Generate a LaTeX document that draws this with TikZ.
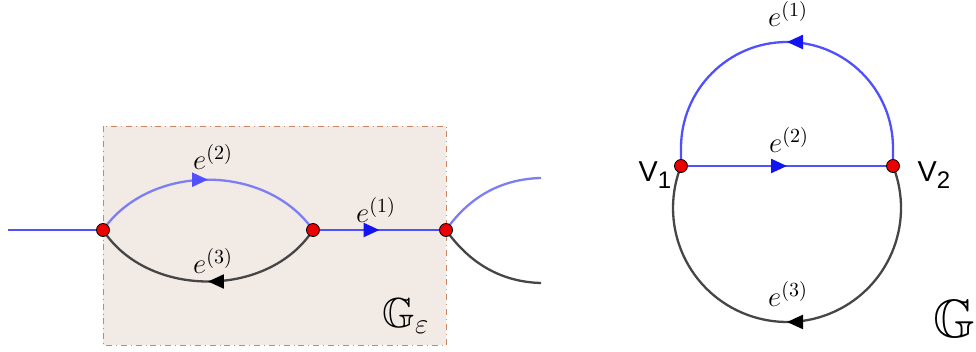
\documentclass[tikz,border=0pt]{standalone}
\usepackage{amssymb}
\usepackage{fontspec}
\newfontfamily\labelfont{Liberation Sans}
\usetikzlibrary{arrows.meta,decorations.markings}
\definecolor{wire}{RGB}{80,80,255}
\definecolor{wirelight}{RGB}{125,125,245}
\definecolor{dark}{RGB}{70,70,70}
\definecolor{dot}{RGB}{235,0,0}
\definecolor{sand}{RGB}{242,234,229}
\definecolor{rust}{RGB}{205,135,100}
\definecolor{tipblue}{RGB}{20,20,240}
\pgfdeclarelayer{back}
\pgfdeclarelayer{front}
\pgfsetlayers{back,main,front}
\tikzset{
  vertex/.style={circle,draw=black,fill=dot,thin,inner sep=0pt,minimum size=6.5pt},
  wireline/.style={line width=1.15pt,draw=#1},
  wireline/.default=wire,
  midarrow/.style={postaction={decorate,decoration={markings,
    mark=at position 0.5 with {\arrow[#1]{Triangle[length=8pt,width=7pt]}}}}},
  midarrow/.default=tipblue,
  lbl/.style={font=\Large},
  vlbl/.style={font=\labelfont\Large},
  region/.style={draw=rust,fill=sand,dash dot,thin},
}

\begin{document}
\begin{tikzpicture}[x=0.5pt,y=0.5pt]
  \useasboundingbox (0,0) rectangle (976,-352);
  % vertices on top
  \begin{pgfonlayer}{front}
    \node[vertex] (a1) at (103,-230) {};
    \node[vertex] (a2) at (313,-230) {};
    \node[vertex] (a3) at (446,-230) {};
    \node[vertex] (v1) at (681,-166) {};
    \node[vertex] (v2) at (893,-166) {};
  \end{pgfonlayer}
  % the piece G_eps
  \begin{pgfonlayer}{back}
    \draw[region] (103,-126) rectangle (446,-345);
  \end{pgfonlayer}
  \coordinate (in) at (8,-230);
  \coordinate (out1) at (541,-178);
  \coordinate (out2) at (541,-283);
  \draw[wireline] (in) -- (a1.center);
  \draw[wireline=wirelight,midarrow=wire] (a1.center) to[bend left=55] (a2.center);
  \draw[wireline=dark,midarrow=black] (a2.center) to[bend left=57] (a1.center);
  \draw[wireline,midarrow] (a2.center) -- (a3.center);
  \draw[wireline=wirelight] (a3.center) .. controls (470,-196) and (502,-179) .. (out1);
  \draw[wireline=dark] (a3.center) .. controls (470,-264) and (502,-282) .. (out2);
  \node[lbl] (l2) at (213,-157) {$e^{(2)}$};
  \node[lbl] (l3) at (213,-261) {$e^{(3)}$};
  \node[lbl] (l1) at (376,-210) {$e^{(1)}$};
  \node[font=\fontsize{21}{25}\selectfont] (ge) at (406,-316) {$\mathbb{G}_{\varepsilon}$};
  % the graph G
  \draw[wireline,midarrow] (v1.center) -- (v2.center);
  \draw[wireline,midarrow] (v2.center) -- ++(0,18) arc[start angle=0,end angle=180,radius=106] -- (v1.center);
  \draw[wireline=dark,midarrow=black] (v2.center) arc[start angle=21.6,end angle=-201.6,radius=114];
  \node[lbl] (r1) at (788,-14) {$e^{(1)}$};
  \node[lbl] (r2) at (789,-140) {$e^{(2)}$};
  \node[lbl] (r3) at (788,-294) {$e^{(3)}$};
  \node[vlbl] (n1) at (655,-175) {V\raisebox{-0.45ex}{\large 1}};
  \node[vlbl] (n2) at (934,-175) {V\raisebox{-0.45ex}{\large 2}};
  \node[font=\fontsize{27}{32}\selectfont] (gg) at (954,-319) {$\mathbb{G}$};
\end{tikzpicture}
\end{document}
